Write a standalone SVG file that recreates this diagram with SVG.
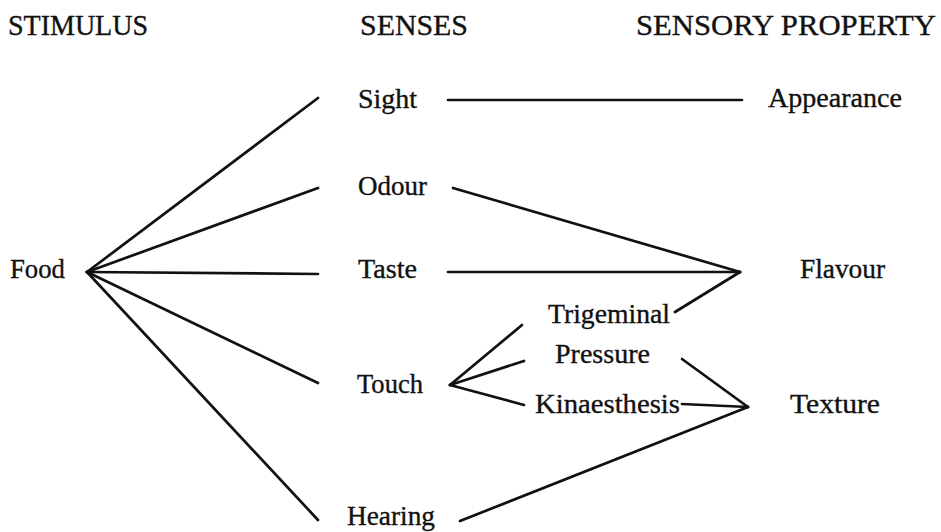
<svg xmlns="http://www.w3.org/2000/svg" width="941" height="532" viewBox="0 0 941 532">
<style>
text{font-family:"Liberation Serif","Times New Roman",serif;fill:#111;stroke:#111;stroke-width:0.35;}
.h{font-size:30px;}
.t{font-size:27px;}
.c line{stroke:#111;stroke-width:2.7;stroke-linecap:round;}
</style>
<rect width="941" height="532" fill="#fff"/>
<g id="headers">
<text class="h" x="8" y="35" textLength="140" lengthAdjust="spacingAndGlyphs">STIMULUS</text>
<text class="h" x="360" y="35" textLength="108" lengthAdjust="spacingAndGlyphs">SENSES</text>
<text class="h" x="636" y="35" textLength="300" lengthAdjust="spacingAndGlyphs">SENSORY PROPERTY</text>
</g>
<g id="food"><text class="t" x="10" y="278" textLength="55" lengthAdjust="spacingAndGlyphs">Food</text></g>
<g id="sight"><text class="t" x="358" y="108" textLength="59" lengthAdjust="spacingAndGlyphs">Sight</text></g>
<g id="odour"><text class="t" x="358" y="195" textLength="69" lengthAdjust="spacingAndGlyphs">Odour</text></g>
<g id="taste"><text class="t" x="358" y="278" textLength="59" lengthAdjust="spacingAndGlyphs">Taste</text></g>
<g id="touch"><text class="t" x="357" y="393" textLength="66" lengthAdjust="spacingAndGlyphs">Touch</text></g>
<g id="hearing"><text class="t" x="347" y="525" textLength="88" lengthAdjust="spacingAndGlyphs">Hearing</text></g>
<g id="trigeminal"><text class="t" x="548" y="323" textLength="122" lengthAdjust="spacingAndGlyphs">Trigeminal</text></g>
<g id="pressure"><text class="t" x="555" y="363" textLength="95" lengthAdjust="spacingAndGlyphs">Pressure</text></g>
<g id="kinaesthesis"><text class="t" x="535" y="413" textLength="145" lengthAdjust="spacingAndGlyphs">Kinaesthesis</text></g>
<g id="appearance"><text class="t" x="768" y="107" textLength="134" lengthAdjust="spacingAndGlyphs">Appearance</text></g>
<g id="flavour"><text class="t" x="800" y="278" textLength="85" lengthAdjust="spacingAndGlyphs">Flavour</text></g>
<g id="texture"><text class="t" x="790" y="413" textLength="90" lengthAdjust="spacingAndGlyphs">Texture</text></g>
<g id="connectors" class="c">
<line x1="87" y1="272" x2="318" y2="98"/>
<line x1="87" y1="272" x2="318" y2="188"/>
<line x1="87" y1="272" x2="318" y2="274"/>
<line x1="87" y1="272" x2="318" y2="383"/>
<line x1="87" y1="272" x2="318" y2="520"/>
<line x1="448" y1="100" x2="742" y2="100"/>
<line x1="453" y1="188" x2="740" y2="272"/>
<line x1="448" y1="272" x2="740" y2="272"/>
<line x1="740" y1="272" x2="675" y2="312"/>
<line x1="450" y1="385" x2="522" y2="325"/>
<line x1="450" y1="385" x2="524" y2="361"/>
<line x1="450" y1="385" x2="524" y2="405"/>
<line x1="682" y1="359" x2="748" y2="407"/>
<line x1="682" y1="404" x2="748" y2="407"/>
<line x1="460" y1="521" x2="748" y2="407"/>
</g>
</svg>
